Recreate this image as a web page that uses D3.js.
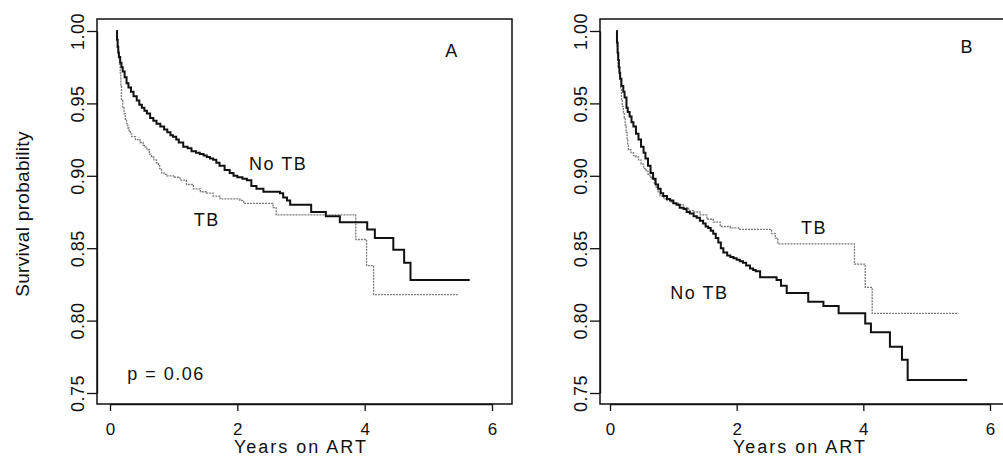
<!DOCTYPE html>
<html lang="en">
<head>
    <meta charset="UTF-8">
    <title>Survival by TB status</title>
    <script src="https://d3js.org/d3.v7.min.js"></script>
    <style>
        body {
            margin: 0;
            background: #fff;
            font-family: "Liberation Sans", Arial, Helvetica, sans-serif;
        }
        .axis text {
            font-family: "Liberation Sans", Arial, Helvetica, sans-serif;
            font-size: 17px;
            fill: #111;
        }
        .axis line,
        .axis path {
            stroke: #111;
            stroke-width: 1.3px;
            fill: none;
        }
        .frame {
            fill: none;
            stroke: #111;
            stroke-width: 1.5px;
        }
        .label {
            font-size: 18px;
            letter-spacing: 1.5px;
            fill: #111;
        }
    </style>
</head>
<body>
    <svg width="1003" height="456"></svg>
    <script>
        // panel A: time (years) and survival for the two groups
        var aNoTbTime = [0.10, 0.11, 0.12, 0.13, 0.14, 0.16, 0.18, 0.20, 0.23, 0.26, 0.29, 0.33, 0.37, 0.42, 0.46, 0.50, 0.54, 0.58, 0.63, 0.68, 0.73, 0.79, 0.85, 0.90, 0.95, 0.99, 1.04, 1.08, 1.15, 1.22, 1.28, 1.35, 1.41, 1.47, 1.52, 1.57, 1.62, 1.67, 1.72, 1.80, 1.88, 1.94, 2.00, 2.08, 2.15, 2.22, 2.30, 2.41, 2.67, 2.72, 2.78, 2.83, 3.16, 3.39, 3.61, 4.04, 4.16, 4.45, 4.62, 4.72, 5.65];
        var aNoTbSurv = [1.000, 0.994, 0.989, 0.985, 0.982, 0.978, 0.975, 0.972, 0.968, 0.964, 0.961, 0.958, 0.955, 0.952, 0.949, 0.947, 0.945, 0.943, 0.940, 0.938, 0.936, 0.934, 0.932, 0.930, 0.928, 0.927, 0.925, 0.923, 0.920, 0.919, 0.917, 0.916, 0.915, 0.914, 0.913, 0.912, 0.911, 0.909, 0.907, 0.904, 0.902, 0.900, 0.899, 0.898, 0.897, 0.893, 0.891, 0.889, 0.888, 0.885, 0.883, 0.880, 0.875, 0.872, 0.868, 0.863, 0.857, 0.849, 0.840, 0.828, 0.828];
        var aTbTime = [0.10, 0.11, 0.12, 0.13, 0.14, 0.15, 0.16, 0.17, 0.18, 0.20, 0.22, 0.24, 0.26, 0.28, 0.30, 0.32, 0.34, 0.40, 0.47, 0.52, 0.55, 0.58, 0.62, 0.65, 0.69, 0.73, 0.76, 0.78, 0.81, 0.85, 0.89, 1.00, 1.10, 1.20, 1.31, 1.42, 1.52, 1.62, 1.73, 2.04, 2.10, 2.56, 2.61, 3.86, 4.03, 4.14, 5.48];
        var aTbSurv = [1.000, 0.995, 0.990, 0.986, 0.981, 0.977, 0.971, 0.962, 0.952, 0.947, 0.943, 0.939, 0.936, 0.933, 0.931, 0.929, 0.927, 0.925, 0.923, 0.921, 0.920, 0.918, 0.915, 0.913, 0.911, 0.909, 0.907, 0.905, 0.902, 0.901, 0.900, 0.899, 0.897, 0.894, 0.891, 0.889, 0.888, 0.886, 0.884, 0.883, 0.881, 0.878, 0.873, 0.856, 0.838, 0.818, 0.818];

        // panel B
        var bNoTbTime = [0.10, 0.11, 0.12, 0.13, 0.14, 0.15, 0.16, 0.18, 0.21, 0.23, 0.26, 0.28, 0.31, 0.34, 0.37, 0.41, 0.45, 0.49, 0.53, 0.56, 0.60, 0.64, 0.68, 0.72, 0.76, 0.80, 0.84, 0.90, 0.95, 1.00, 1.05, 1.10, 1.16, 1.21, 1.26, 1.32, 1.37, 1.42, 1.47, 1.51, 1.55, 1.59, 1.63, 1.67, 1.71, 1.75, 1.79, 1.85, 1.90, 1.95, 2.00, 2.05, 2.10, 2.15, 2.21, 2.26, 2.30, 2.37, 2.63, 2.70, 2.79, 3.13, 3.37, 3.61, 4.03, 4.12, 4.42, 4.61, 4.70, 5.64];
        var bNoTbSurv = [1.000, 0.992, 0.985, 0.980, 0.975, 0.971, 0.967, 0.962, 0.958, 0.954, 0.947, 0.944, 0.941, 0.937, 0.934, 0.929, 0.925, 0.920, 0.916, 0.912, 0.907, 0.902, 0.898, 0.894, 0.891, 0.888, 0.886, 0.884, 0.883, 0.881, 0.880, 0.878, 0.877, 0.875, 0.874, 0.872, 0.871, 0.869, 0.867, 0.865, 0.864, 0.862, 0.860, 0.857, 0.854, 0.850, 0.847, 0.845, 0.844, 0.843, 0.842, 0.841, 0.840, 0.838, 0.836, 0.835, 0.834, 0.830, 0.828, 0.824, 0.819, 0.813, 0.810, 0.805, 0.798, 0.792, 0.782, 0.773, 0.759, 0.759];
        var bTbTime = [0.10, 0.11, 0.12, 0.13, 0.145, 0.16, 0.17, 0.18, 0.195, 0.21, 0.225, 0.24, 0.255, 0.27, 0.28, 0.29, 0.33, 0.37, 0.41, 0.45, 0.49, 0.53, 0.57, 0.60, 0.63, 0.66, 0.70, 0.73, 0.76, 0.79, 0.85, 0.90, 0.95, 1.00, 1.08, 1.16, 1.24, 1.32, 1.42, 1.53, 1.63, 1.74, 1.90, 2.05, 2.55, 2.61, 2.65, 3.86, 4.03, 4.14, 5.50];
        var bTbSurv = [1.000, 0.990, 0.982, 0.975, 0.971, 0.967, 0.960, 0.953, 0.948, 0.944, 0.940, 0.935, 0.930, 0.925, 0.921, 0.918, 0.916, 0.914, 0.913, 0.911, 0.908, 0.905, 0.903, 0.901, 0.899, 0.898, 0.895, 0.892, 0.889, 0.886, 0.884, 0.883, 0.882, 0.881, 0.880, 0.878, 0.876, 0.875, 0.873, 0.870, 0.868, 0.865, 0.864, 0.863, 0.860, 0.857, 0.853, 0.839, 0.823, 0.805, 0.805];

        var xTicks = [0, 2, 4, 6];
        var yTicks = [0.75, 0.80, 0.85, 0.90, 0.95, 1.00];

        var panels = [
            {
                box: {left: 97, right: 512, top: 19, bottom: 404},
                xRange: [110, 492],
                noTb: d3.zip(aNoTbTime, aNoTbSurv),
                tb: d3.zip(aTbTime, aTbSurv),
                notes: [
                    {text: "No TB", x: 2.64, y: 0.904, anchor: "middle"},
                    {text: "TB", x: 1.52, y: 0.865, anchor: "middle"},
                    {text: "A", x: 5.37, y: 0.982, anchor: "middle"},
                    {text: "p = 0.06", x: 0.27, y: 0.759, anchor: "start"}
                ]
            },
            {
                box: {left: 600, right: 1008, top: 19, bottom: 404},
                xRange: [610, 990],
                noTb: d3.zip(bNoTbTime, bNoTbSurv),
                tb: d3.zip(bTbTime, bTbSurv),
                notes: [
                    {text: "B", x: 5.64, y: 0.985, anchor: "middle"},
                    {text: "TB", x: 3.22, y: 0.860, anchor: "middle"},
                    {text: "No TB", x: 1.41, y: 0.815, anchor: "middle"}
                ]
            }
        ];

        var svg = d3.select("svg");

        panels.forEach(function(p) {
            var x = d3.scaleLinear().domain([0, 6]).range(p.xRange),
                y = d3.scaleLinear().domain([0.75, 1.0]).range([393, 31]);

            var g = svg.append("g");

            // box round the plot region
            g.append("rect")
                .attr("class", "frame")
                .attr("x", p.box.left)
                .attr("y", p.box.top)
                .attr("width", p.box.right - p.box.left)
                .attr("height", p.box.bottom - p.box.top);

            // x axis
            var xg = g.append("g")
                .attr("class", "axis")
                .attr("transform", "translate(0," + p.box.bottom + ")")
                .call(d3.axisBottom(x).tickValues(xTicks).tickSize(7).tickSizeOuter(0).tickFormat(d3.format("d")));
            xg.selectAll("text").attr("y", 31).attr("dy", 0);
            xg.append("text")
                .attr("x", (p.xRange[0] + p.xRange[1]) / 2)
                .attr("y", 49)
                .attr("text-anchor", "middle")
                .style("font-size", "18px")
                .style("letter-spacing", "2px")
                .text("Years on ART");

            // y axis, labels turned parallel to the axis
            var yg = g.append("g")
                .attr("class", "axis")
                .attr("transform", "translate(" + p.box.left + ",0)")
                .call(d3.axisLeft(y).tickValues(yTicks).tickSize(10).tickSizeOuter(0).tickFormat(d3.format(".2f")));
            yg.selectAll(".tick text")
                .attr("x", 0)
                .attr("y", -13)
                .attr("dy", 0)
                .attr("transform", "rotate(-90)")
                .style("text-anchor", "middle")
                .style("font-size", "18px")
                .style("letter-spacing", "0.5px");

            var line = d3.line()
                .x(function(d) { return x(d[0]); })
                .y(function(d) { return y(d[1]); })
                .curve(d3.curveStepAfter);

            g.append("path")
                .datum(p.tb)
                .attr("fill", "none")
                .attr("stroke", "#7a7a7a")
                .attr("stroke-width", 1.3)
                .attr("stroke-dasharray", "2,1")
                .attr("d", line);

            g.append("path")
                .datum(p.noTb)
                .attr("fill", "none")
                .attr("stroke", "#111")
                .attr("stroke-width", 2)
                .attr("d", line);

            g.selectAll(".note")
                .data(p.notes)
              .enter().append("text")
                .attr("class", "label note")
                .attr("x", function(d) { return x(d.x); })
                .attr("y", function(d) { return y(d.y); })
                .attr("text-anchor", function(d) { return d.anchor; })
                .text(function(d) { return d.text; });
        });

        // shared y title
        svg.append("text")
            .attr("class", "label")
            .attr("transform", "translate(29,214) rotate(-90)")
            .attr("text-anchor", "middle")
            .style("font-size", "19px")
            .style("letter-spacing", "0.3px")
            .text("Survival probability");
    </script>
</body>
</html>
